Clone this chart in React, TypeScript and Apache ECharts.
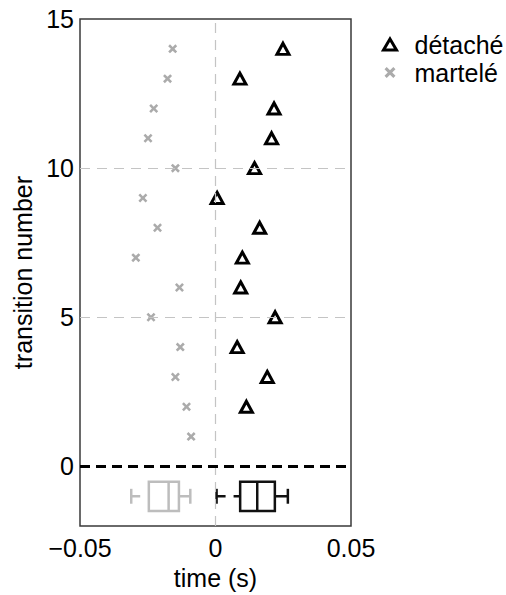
import React, { useEffect, useRef } from "react";
import * as echarts from "echarts";

// transition numbers and onset times (s)
const detacheTransitions = [2, 3, 4, 5, 6, 7, 8, 9, 10, 11, 12, 13, 14];
const detacheTimes = [0.0114, 0.0191, 0.008, 0.022, 0.0093, 0.0099, 0.0163, 0.0006, 0.0144, 0.0207, 0.0216, 0.009, 0.0249];
const marteleTransitions = [1, 2, 3, 4, 5, 6, 7, 8, 9, 10, 11, 12, 13, 14];
const marteleTimes = [-0.009, -0.0107, -0.0148, -0.013, -0.0238, -0.0133, -0.0294, -0.0214, -0.0268, -0.0148, -0.0249, -0.0228, -0.0177, -0.0158];

// boxplot summaries: [min, q1, median, q3, max]
const boxRow = -1;
const detacheBox = [0.0004, 0.0091, 0.0154, 0.0219, 0.0267];
const marteleBox = [-0.0311, -0.0246, -0.0173, -0.0135, -0.0093];

const xTicks = [-0.05, 0, 0.05];
const yTicks = [0, 5, 10, 15];
const gridYLines = [5, 10];
const gridXLines = [0];
const zeroLine = 0;

const FONT = "Liberation Sans, Arial, Helvetica, sans-serif";
const CROSS = "path://M2,0 L5,3 L8,0 L10,2 L7,5 L10,8 L8,10 L5,7 L2,10 L0,8 L3,5 L0,2 Z";
const GRAY = "#ababab";
const BOXGRAY = "#bdbdbd";

function boxRenderer(color: string) {
  return (params: any, api: any) => {
    const y = api.value(0);
    const mn = api.value(1), q1 = api.value(2), md = api.value(3), q3 = api.value(4), mx = api.value(5);
    const unit = api.size([0, 1])[1];
    const cy = api.coord([0, y])[1];
    const px = (v: number) => api.coord([v, y])[0];
    const bh = 0.49 * unit;
    const ch = 0.25 * unit;
    const st = { stroke: color, lineWidth: 2.5, fill: "none" };
    const dash = { stroke: color, lineWidth: 2.5, lineDash: [9, 8] };
    return {
      type: "group",
      children: [
        { type: "rect", shape: { x: px(q1), y: cy - bh, width: px(q3) - px(q1), height: 2 * bh }, style: st },
        { type: "line", shape: { x1: px(md), y1: cy - bh, x2: px(md), y2: cy + bh }, style: st },
        { type: "line", shape: { x1: px(mn), y1: cy, x2: px(q1), y2: cy }, style: dash },
        { type: "line", shape: { x1: px(q3), y1: cy, x2: px(mx), y2: cy }, style: { stroke: color, lineWidth: 2.5 } },
        { type: "line", shape: { x1: px(mn), y1: cy - ch, x2: px(mn), y2: cy + ch }, style: st },
        { type: "line", shape: { x1: px(mx), y1: cy - ch, x2: px(mx), y2: cy + ch }, style: st },
      ],
    };
  };
}

export default function App() {
  const ref = useRef<HTMLDivElement>(null);
  useEffect(() => {
    if (!ref.current) return;
    const chart = echarts.init(ref.current, undefined, { renderer: "svg" });
    chart.setOption({
      animation: false,
      backgroundColor: "#fff",
      textStyle: { fontFamily: FONT },
      grid: { left: 80, right: 155, top: 19, bottom: 61.5, show: true, borderColor: "#3a3a3a", borderWidth: 1.5, backgroundColor: "transparent" },
      legend: {
        orient: "vertical",
        left: 377,
        top: 27,
        itemWidth: 13,
        itemHeight: 11,
        itemGap: 3,
        symbolKeepAspect: true,
        textStyle: { fontSize: 25, color: "#000", fontFamily: FONT, padding: [0, 0, 0, 13] },
        data: [
          { name: "détaché", icon: "triangle", itemStyle: { color: "#fff", borderColor: "#000", borderWidth: 3 } },
          { name: "martelé", icon: CROSS, itemStyle: { color: GRAY, borderWidth: 0 } },
        ],
      },
      xAxis: {
        type: "value",
        min: -0.05,
        max: 0.05,
        interval: 0.05,
        name: "time (s)",
        nameLocation: "middle",
        nameGap: 34,
        nameTextStyle: { fontSize: 25, color: "#000", fontFamily: FONT },
        axisLine: { show: false },
        axisTick: { show: false },
        splitLine: { show: false },
        axisLabel: {
          customValues: xTicks,
          fontSize: 25,
          color: "#000",
          margin: 9,
          showMinLabel: true,
          showMaxLabel: true,
          formatter: (v: number) => (v === 0 ? "0" : v < 0 ? "\u2212" + Math.abs(v).toFixed(2) : v.toFixed(2)),
        },
      },
      yAxis: {
        type: "value",
        min: -2,
        max: 15,
        name: "transition number",
        nameLocation: "middle",
        nameGap: 42,
        nameTextStyle: { fontSize: 25, color: "#000", fontFamily: FONT },
        axisLine: { show: false },
        axisTick: { show: false },
        splitLine: { show: false },
        axisLabel: { customValues: yTicks, fontSize: 25, color: "#000", margin: 6 },
      },
      series: [
        {
          name: "grid",
          type: "line",
          data: [],
          z: 1,
          silent: true,
          markLine: {
            silent: true,
            symbol: "none",
            label: { show: false },
            lineStyle: { color: "#c4c4c4", width: 1.2, type: [10, 7] },
            data: [
              ...gridYLines.map((v) => ({ yAxis: v })),
              ...gridXLines.map((v) => ({ xAxis: v })),
              { yAxis: zeroLine, lineStyle: { color: "#000", width: 2.8, type: [10, 6] } },
            ],
          },
        },
        {
          name: "martelé",
          type: "scatter",
          z: 3,
          symbol: CROSS,
          symbolSize: 9,
          itemStyle: { color: GRAY, opacity: 1 },
          data: marteleTimes.map((t, i) => [t, marteleTransitions[i]]),
        },
        {
          name: "détaché",
          type: "scatter",
          z: 4,
          symbol: "triangle",
          symbolSize: [12, 11],
          itemStyle: { color: "#fff", borderColor: "#000", borderWidth: 3, opacity: 1 },
          data: detacheTimes.map((t, i) => [t, detacheTransitions[i]]),
        },
        {
          name: "martelé box",
          type: "custom",
          z: 3,
          renderItem: boxRenderer(BOXGRAY),
          encode: { x: [1, 2, 3, 4, 5], y: 0 },
          data: [[boxRow, ...marteleBox]],
        },
        {
          name: "détaché box",
          type: "custom",
          z: 3,
          renderItem: boxRenderer("#111"),
          encode: { x: [1, 2, 3, 4, 5], y: 0 },
          data: [[boxRow, ...detacheBox]],
        },
      ],
    });
    return () => chart.dispose();
  }, []);
  return <div ref={ref} style={{ position: "fixed", left: 0, top: 0, width: 506, height: 595, background: "#fff" }} />;
}
